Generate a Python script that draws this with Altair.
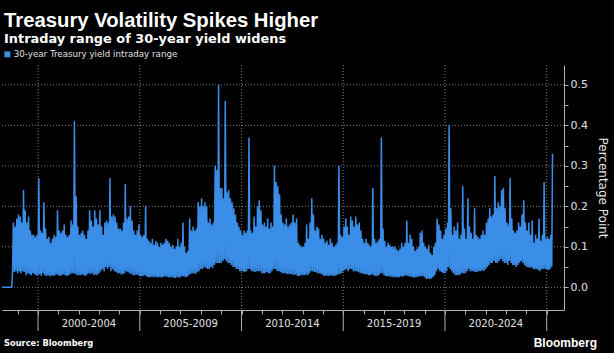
import altair as alt
import pandas as pd

TITLE = "Treasury Volatility Spikes Higher"
SUBTITLE = "Intraday range of 30-year yield widens"
SERIES = "30-year Treasury yield intraday range"
SOURCE = "Source: Bloomberg"
BRAND = "Bloomberg"

period_labels = ["2000-2004", "2005-2009", "2010-2014", "2015-2019", "2020-2024"]
period_mid = ["2002-07-02", "2007-07-02", "2012-07-02", "2017-07-02", "2022-07-02"]
grid_years = ["2000-01-01", "2005-01-01", "2010-01-01", "2015-01-01", "2020-01-01", "2025-01-01"]
y_grid = [0.0, 0.1, 0.2, 0.3, 0.4, 0.5]

# monthly extremes of the daily series (first month: April 1998)
high_1998 = [0, 0, 0, 0, 0, 0, 0.16, 0.15, 0.17]
low_1998 = [0, 0, 0, 0, 0, 0, 0.04, 0.038, 0.04]
high_1999 = [0.18, 0.175, 0.16, 0.24, 0.19, 0.16, 0.175, 0.14, 0.13, 0.13, 0.125, 0.13]
low_1999 = [0.035, 0.04, 0.035, 0.04, 0.038, 0.03, 0.035, 0.033, 0.03, 0.035, 0.032, 0.03]
high_2000 = [0.27, 0.14, 0.135, 0.21, 0.145, 0.12, 0.125, 0.11, 0.12, 0.13, 0.125, 0.19]
low_2000 = [0.03, 0.032, 0.028, 0.035, 0.03, 0.028, 0.03, 0.027, 0.03, 0.028, 0.03, 0.032]
high_2001 = [0.14, 0.135, 0.14, 0.155, 0.13, 0.125, 0.13, 0.165, 0.155, 0.41, 0.225, 0.15]
low_2001 = [0.03, 0.028, 0.03, 0.032, 0.03, 0.028, 0.03, 0.032, 0.035, 0.035, 0.033, 0.03]
high_2002 = [0.13, 0.135, 0.14, 0.13, 0.12, 0.14, 0.19, 0.165, 0.15, 0.19, 0.17, 0.155]
low_2002 = [0.03, 0.03, 0.032, 0.03, 0.028, 0.032, 0.035, 0.033, 0.035, 0.03, 0.032, 0.03]
high_2003 = [0.19, 0.15, 0.13, 0.16, 0.165, 0.16, 0.27, 0.175, 0.18, 0.175, 0.16, 0.145]
low_2003 = [0.035, 0.04, 0.045, 0.04, 0.05, 0.045, 0.05, 0.04, 0.045, 0.04, 0.038, 0.035]
high_2004 = [0.145, 0.14, 0.16, 0.255, 0.17, 0.175, 0.2, 0.165, 0.14, 0.13, 0.14, 0.155]
low_2004 = [0.035, 0.032, 0.033, 0.035, 0.04, 0.038, 0.035, 0.033, 0.03, 0.03, 0.032, 0.03]
high_2005 = [0.13, 0.125, 0.13, 0.2, 0.12, 0.115, 0.11, 0.12, 0.105, 0.115, 0.11, 0.1]
low_2005 = [0.028, 0.027, 0.028, 0.03, 0.027, 0.025, 0.025, 0.026, 0.025, 0.026, 0.025, 0.025]
high_2006 = [0.11, 0.105, 0.11, 0.12, 0.115, 0.11, 0.1, 0.105, 0.095, 0.1, 0.12, 0.1]
low_2006 = [0.025, 0.024, 0.026, 0.027, 0.026, 0.025, 0.024, 0.025, 0.024, 0.023, 0.025, 0.024]
high_2007 = [0.11, 0.16, 0.1, 0.085, 0.09, 0.17, 0.14, 0.15, 0.14, 0.145, 0.21, 0.2]
low_2007 = [0.025, 0.028, 0.027, 0.025, 0.026, 0.03, 0.033, 0.035, 0.035, 0.033, 0.038, 0.04]
high_2008 = [0.22, 0.2, 0.21, 0.2, 0.16, 0.17, 0.155, 0.16, 0.3, 0.29, 0.5, 0.245]
low_2008 = [0.045, 0.045, 0.05, 0.048, 0.045, 0.045, 0.05, 0.048, 0.055, 0.06, 0.06, 0.06]
high_2009 = [0.245, 0.22, 0.46, 0.235, 0.24, 0.22, 0.21, 0.195, 0.18, 0.16, 0.15, 0.14]
low_2009 = [0.06, 0.065, 0.07, 0.065, 0.06, 0.06, 0.055, 0.05, 0.05, 0.045, 0.045, 0.04]
high_2010 = [0.13, 0.14, 0.135, 0.14, 0.37, 0.14, 0.135, 0.175, 0.15, 0.2, 0.215, 0.19]
low_2010 = [0.04, 0.04, 0.038, 0.04, 0.045, 0.045, 0.04, 0.04, 0.038, 0.04, 0.04, 0.04]
high_2011 = [0.155, 0.16, 0.15, 0.17, 0.145, 0.16, 0.15, 0.3, 0.26, 0.25, 0.23, 0.18]
low_2011 = [0.035, 0.035, 0.035, 0.038, 0.035, 0.035, 0.04, 0.045, 0.045, 0.04, 0.04, 0.038]
high_2012 = [0.16, 0.155, 0.17, 0.15, 0.155, 0.16, 0.18, 0.16, 0.17, 0.11, 0.105, 0.1]
low_2012 = [0.035, 0.035, 0.035, 0.033, 0.033, 0.033, 0.032, 0.03, 0.032, 0.028, 0.028, 0.03]
high_2013 = [0.1, 0.11, 0.155, 0.12, 0.16, 0.22, 0.18, 0.14, 0.15, 0.145, 0.12, 0.13]
low_2013 = [0.03, 0.03, 0.032, 0.03, 0.035, 0.04, 0.04, 0.038, 0.037, 0.035, 0.035, 0.033]
high_2014 = [0.12, 0.11, 0.115, 0.105, 0.12, 0.11, 0.1, 0.105, 0.11, 0.3, 0.13, 0.125]
low_2014 = [0.03, 0.028, 0.03, 0.028, 0.028, 0.03, 0.028, 0.028, 0.03, 0.032, 0.033, 0.035]
high_2015 = [0.15, 0.17, 0.15, 0.13, 0.175, 0.165, 0.15, 0.175, 0.155, 0.16, 0.14, 0.12]
low_2015 = [0.04, 0.042, 0.045, 0.04, 0.045, 0.045, 0.04, 0.04, 0.04, 0.038, 0.035, 0.035]
high_2016 = [0.11, 0.12, 0.11, 0.105, 0.1, 0.245, 0.12, 0.11, 0.115, 0.12, 0.37, 0.145]
low_2016 = [0.033, 0.033, 0.032, 0.03, 0.03, 0.032, 0.03, 0.028, 0.028, 0.03, 0.035, 0.035]
high_2017 = [0.115, 0.1, 0.11, 0.105, 0.1, 0.1, 0.1, 0.095, 0.09, 0.095, 0.11, 0.1]
low_2017 = [0.03, 0.028, 0.028, 0.027, 0.026, 0.026, 0.025, 0.025, 0.025, 0.025, 0.027, 0.026]
high_2018 = [0.11, 0.165, 0.11, 0.13, 0.12, 0.1, 0.09, 0.095, 0.1, 0.135, 0.14, 0.11]
low_2018 = [0.028, 0.03, 0.028, 0.027, 0.026, 0.025, 0.024, 0.025, 0.026, 0.027, 0.028, 0.027]
high_2019 = [0.1, 0.095, 0.105, 0.085, 0.08, 0.1, 0.11, 0.17, 0.155, 0.14, 0.12, 0.13]
low_2019 = [0.025, 0.02, 0.022, 0.02, 0.022, 0.025, 0.03, 0.04, 0.045, 0.04, 0.038, 0.035]
high_2020 = [0.145, 0.16, 0.4, 0.195, 0.13, 0.15, 0.14, 0.16, 0.12, 0.13, 0.25, 0.145]
low_2020 = [0.035, 0.04, 0.05, 0.045, 0.04, 0.035, 0.03, 0.03, 0.03, 0.032, 0.035, 0.035]
high_2021 = [0.12, 0.22, 0.15, 0.135, 0.12, 0.195, 0.13, 0.125, 0.12, 0.13, 0.14, 0.13]
low_2021 = [0.035, 0.04, 0.045, 0.04, 0.04, 0.04, 0.038, 0.038, 0.04, 0.04, 0.042, 0.04]
high_2022 = [0.16, 0.17, 0.195, 0.175, 0.18, 0.275, 0.195, 0.21, 0.2, 0.24, 0.245, 0.195]
low_2022 = [0.045, 0.05, 0.055, 0.06, 0.06, 0.065, 0.06, 0.06, 0.065, 0.07, 0.065, 0.06]
high_2023 = [0.16, 0.155, 0.27, 0.17, 0.14, 0.135, 0.14, 0.16, 0.15, 0.18, 0.215, 0.16]
low_2023 = [0.06, 0.055, 0.065, 0.06, 0.055, 0.055, 0.05, 0.055, 0.06, 0.065, 0.06, 0.055]
high_2024 = [0.14, 0.16, 0.13, 0.165, 0.11, 0.13, 0.12, 0.17, 0.115, 0.13, 0.26, 0.12]
low_2024 = [0.05, 0.05, 0.048, 0.05, 0.045, 0.045, 0.045, 0.042, 0.04, 0.045, 0.045, 0.045]
high_2025 = [0.125, 0.12, 0.13, 0.33]
low_2025 = [0.045, 0.042, 0.045, 0.05]

high_years = [high_1998, high_1999, high_2000, high_2001, high_2002, high_2003, high_2004,
              high_2005, high_2006, high_2007, high_2008, high_2009, high_2010, high_2011,
              high_2012, high_2013, high_2014, high_2015, high_2016, high_2017, high_2018,
              high_2019, high_2020, high_2021, high_2022, high_2023, high_2024, high_2025]
low_years = [low_1998, low_1999, low_2000, low_2001, low_2002, low_2003, low_2004,
             low_2005, low_2006, low_2007, low_2008, low_2009, low_2010, low_2011,
             low_2012, low_2013, low_2014, low_2015, low_2016, low_2017, low_2018,
             low_2019, low_2020, low_2021, low_2022, low_2023, low_2024, low_2025]

highs = [v for yr in high_years for v in yr]
lows = [v for yr in low_years for v in yr]
months = pd.date_range("1998-04-01", periods=len(highs), freq="MS")

rows = []
for i, m in enumerate(months):
    rows.append({"date": m.strftime("%Y-%m-%d"), "value": lows[i], "order": 2 * i, "series": SERIES})
    rows.append({"date": (m + pd.Timedelta(days=14)).strftime("%Y-%m-%d"), "value": highs[i],
                 "order": 2 * i + 1, "series": SERIES})
line_df = pd.DataFrame(rows)

BLUE = "#3a8ee8"
FONT = "DejaVu Sans"
W, H = 562, 245

x_scale = alt.Scale(domain=[alt.DateTime(year=1998, month=3, date=25),
                            alt.DateTime(year=2025, month=11, date=7)])
y_scale = alt.Scale(domain=[-0.056, 0.549], nice=False, zero=False)

x_axis = alt.Axis(values=[alt.DateTime(year=y, month=1, date=1) for y in range(1999, 2026)],
                  labels=False, grid=False, tickSize=4, title=None,
                  domainColor="#b0b0b0", tickColor="#b0b0b0", domainWidth=1)
y_axis = alt.Axis(orient="right", values=[round(0.05 * k, 2) for k in range(11)],
                  labelExpr="round(datum.value * 20) % 2 == 0 ? format(datum.value, '.1f') : ''",
                  grid=False, tickSize=4, labelPadding=2, labelOverlap=False,
                  labelFont=FONT, labelFontSize=11, labelColor="#e0e0e0",
                  domainColor="#b0b0b0", tickColor="#b0b0b0",
                  title="Percentage Point", titleFont=FONT, titleFontSize=12,
                  titleFontWeight="normal", titleColor="#e8e8e8", titlePadding=8)

X = lambda: alt.X("date:T", scale=x_scale, axis=x_axis)

vgrid = alt.Chart(pd.DataFrame({"date": grid_years})).mark_rule(
    color="#909090", strokeDash=[1, 2], strokeWidth=0.9
).encode(x=X())

hgrid = alt.Chart(pd.DataFrame({"value": y_grid})).mark_rule(
    color="#909090", strokeDash=[1, 2], strokeWidth=0.9
).encode(y=alt.Y("value:Q", scale=y_scale, axis=y_axis))

line = alt.Chart(line_df).mark_line(strokeWidth=1.5, interpolate="linear").encode(
    x=X(),
    y=alt.Y("value:Q", scale=y_scale, axis=y_axis),
    order="order:Q",
    color=alt.Color("series:N", scale=alt.Scale(domain=[SERIES], range=[BLUE]),
                    legend=alt.Legend(orient="none", legendX=1, legendY=-15, title=None,
                                      symbolType="square", symbolSize=36,
                                      symbolFillColor=BLUE, symbolStrokeColor=BLUE,
                                      symbolStrokeWidth=0, labelFont=FONT,
                                      labelFontSize=8.7, labelColor="#e0e0e0",
                                      labelOffset=2, labelLimit=400, padding=0)),
)

major_ticks = alt.Chart(pd.DataFrame({"date": grid_years})).mark_rule(
    color="#b0b0b0", strokeWidth=1
).encode(x=X(), y=alt.value(H), y2=alt.value(H + 21))

period_text = alt.Chart(pd.DataFrame({"date": period_mid, "label": period_labels})).mark_text(
    font=FONT, fontSize=10, color="#e0e0e0", baseline="alphabetic", align="center"
).encode(x=X(), y=alt.value(H + 17), text="label:N")

source_text = alt.Chart(pd.DataFrame({"t": [SOURCE]})).mark_text(
    font=FONT, fontSize=8.3, fontWeight="bold", color="#ffffff", align="left", baseline="alphabetic"
).encode(x=alt.value(2), y=alt.value(H + 36), text="t:N")

brand_text = alt.Chart(pd.DataFrame({"t": [BRAND]})).mark_text(
    font="Liberation Sans", fontSize=12, fontWeight="bold", color="#ffffff", align="right",
    baseline="alphabetic"
).encode(x=alt.value(W + 33), y=alt.value(H + 37), text="t:N")

chart = alt.layer(vgrid, hgrid, line, major_ticks, period_text, source_text, brand_text).properties(
    width=W, height=H,
    title=alt.TitleParams(text=TITLE, subtitle=SUBTITLE, anchor="start", frame="group",
                          font="Liberation Sans", fontSize=20.3, fontWeight="bold", color="#ffffff",
                          subtitleFont=FONT, subtitleFontSize=12.9, subtitleFontWeight="bold",
                          subtitleColor="#ffffff", subtitlePadding=2, offset=4, dx=2),
    autosize=alt.AutoSizeParams(type="none"),
    padding={"left": 2, "top": 65, "right": 50, "bottom": 43},
    background="#000000",
).configure_view(stroke=None)

chart.save("out.html", embed_options={"renderer": "svg", "actions": False})
